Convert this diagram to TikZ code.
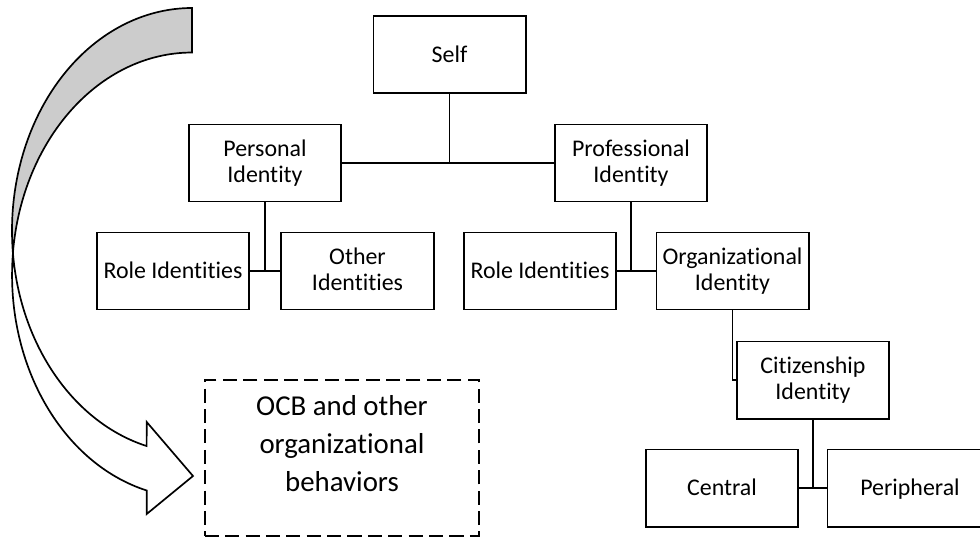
\documentclass[tikz,border=0pt]{standalone}
\usepackage{fontspec}
\setmainfont{Carlito}[Ligatures=NoCommon]
\usepackage{tikz}

\tikzset{
  idbox/.style={draw, line width=1.4pt, minimum width=3.8cm, minimum height=1.925cm, align=center, inner sep=2pt, font=\fontsize{17}{18.5}\selectfont,
    execute at begin node={\rule{0pt}{13pt}}, execute at end node={\rule[-2pt]{0pt}{2pt}}},
  link/.style={line width=1.4pt}
}

\begin{document}
\begin{tikzpicture}[x=0.025cm, y=-0.025cm]
  \useasboundingbox (0,0) rectangle (980,540);

  % Curved arrow, shaded back
  \draw[line width=1.2pt, fill=gray!40] (192,8)
    arc[start angle=270, end angle=174.26, x radius=180, y radius=222.6]
    arc[start angle=185.74, end angle=270, x radius=180, y radius=222.6] -- cycle;

  % Curved arrow, front with head
  \draw[line width=1.2pt, fill=white] (12.9,252.9)
    arc[start angle=174.26, end angle=104.6, x radius=180, y radius=222.6]
    -- (146.7,422) -- (193,476) -- (146.7,514) -- (146.7,490.5)
    arc[start angle=104.6, end angle=185.74, x radius=180, y radius=222.6] -- cycle;

  % Self
  \node[idbox] (self) at (449.5,54.5) {Self};

  % Personal and professional
  \node[idbox] (pers) at (265,163) {Personal\\Identity};
  \node[idbox] (prof) at (631,163) {Professional\\Identity};

  % Under personal
  \node[idbox] (role1) at (173,271) {Role Identities};
  \node[idbox] (other) at (357.5,271) {Other\\Identities};

  % Under professional
  \node[idbox] (role2) at (540,271) {Role Identities};
  \node[idbox] (org) at (732.5,271) {Organizational\\Identity};

  % Citizenship
  \node[idbox] (cit) at (813,380) {Citizenship\\Identity};
  \node[idbox] (central) at (722,488) {Central};
  \node[idbox, minimum width=4.125cm] (periph) at (910,488) {Peripheral};

  % Outcomes
  \node[draw, dash pattern=on 10pt off 4.5pt, line width=1.2pt, minimum width=6.86cm, minimum height=3.9cm, align=center, execute at begin node=\strut, text depth=21pt, font=\fontsize{20.5}{27}\selectfont] (ocb) at (342,458) {OCB and other\\organizational\\behaviors};

  % Links
  \draw[link] (pers.east) -- (prof.west);
  \draw[link] (self.south) -- (self.south |- pers.east);
  \draw[link] (pers.south) -- (pers.south |- role1.east);
  \draw[link] (role1.east) -- (other.west);
  \draw[link] (prof.south) -- (prof.south |- role2.east);
  \draw[link] (role2.east) -- (org.west);
  \draw[link] (org.south) |- (cit.west);
  \draw[link] (cit.south) -- (cit.south |- central.east);
  \draw[link] (central.east) -- (periph.west);
\end{tikzpicture}
\end{document}
